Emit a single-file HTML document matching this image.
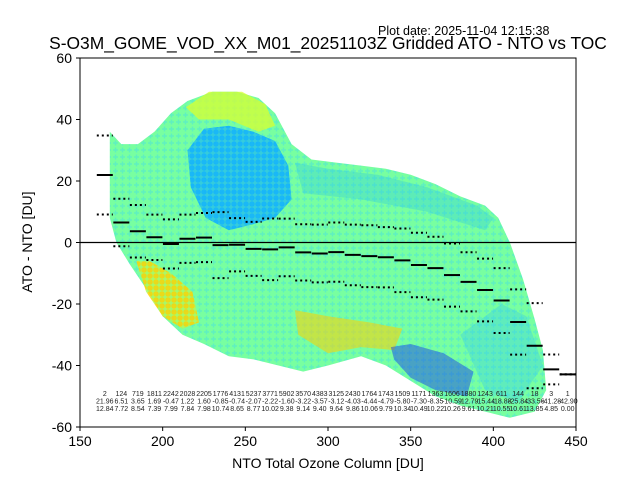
<!DOCTYPE html>
<html><head><meta charset="utf-8"><style>
html,body{margin:0;padding:0;background:#fff}
svg{display:block;font-family:"Liberation Sans","DejaVu Sans",sans-serif}
</style></head><body>
<svg id="chart" width="640" height="480" viewBox="0 0 640 480" xmlns="http://www.w3.org/2000/svg">
<defs>
<pattern id="plusG" width="7" height="7" patternUnits="userSpaceOnUse">
<rect width="7" height="7" fill="#78ffa0"/>
<path d="M1 3h5M3.5 0.5v5" stroke="#5ff0c0" stroke-width="1.5"/>
</pattern>
<pattern id="plusB" width="6" height="6" patternUnits="userSpaceOnUse">
<rect width="6" height="6" fill="#10b0ff"/>
<path d="M0.5 3h5M3 0.5v5" stroke="#30c8e0" stroke-width="1.5"/>
</pattern>
<pattern id="plusY" width="6" height="6" patternUnits="userSpaceOnUse">
<rect width="6" height="6" fill="#ffd400"/>
<path d="M0.5 3h5M3 0.5v5" stroke="#a0ff70" stroke-width="1.2"/>
</pattern>
<clipPath id="plotClip"><rect x="80" y="58" width="496" height="369"/></clipPath>
</defs>
<text x="378" y="35" font-size="12.5">Plot date: 2025-11-04 12:15:38</text>
<text x="328" y="49" font-size="17.4" text-anchor="middle">S-O3M_GOME_VOD_XX_M01_20251103Z Gridded ATO - NTO vs TOC</text>
<g id="cloud" clip-path="url(#plotClip)"></g>
<g id="stats"></g>
<rect x="80" y="58" width="496" height="369" fill="none" stroke="#000" stroke-width="1"/>
<g id="axes"></g>
<text x="328" y="468" font-size="14" text-anchor="middle">NTO Total Ozone Column [DU]</text>
<text x="32" y="242" font-size="14" text-anchor="middle" transform="rotate(-90 32 242)">ATO - NTO [DU]</text>
</svg>
<script>
const binCenters=[165,175,185,195,205,215,225,235,245,255,265,275,285,295,305,315,325,335,345,355,365,375,385,395,405,415,425,435,445];
const binCounts=[2,124,719,1811,2242,2028,2205,1776,4131,5237,3771,5902,3570,4383,3125,2430,1764,1743,1509,1171,1363,1606,1880,1243,611,144,18,3,1];
const binMeans=[21.96,6.51,3.65,1.69,-0.47,1.22,1.60,-0.85,-0.74,-2.07,-2.22,-1.60,-3.22,-3.57,-3.12,-4.03,-4.44,-4.79,-5.80,-7.30,-8.35,-10.59,-12.79,-15.44,-18.88,-25.84,-33.56,-41.28,-42.90];
const binStds=[12.84,7.72,8.54,7.39,7.99,7.84,7.98,10.74,8.65,8.77,10.02,9.38,9.14,9.40,9.64,9.86,10.06,9.79,10.34,10.49,10.22,10.26,9.61,10.21,10.55,10.61,13.85,4.85,0.00];
const xTicks=[150,200,250,300,350,400,450];
const yTicks=[-60,-40,-20,0,20,40,60];
const envUpper=[[168,36],[175,32],[185,32],[195,36],[205,42],[215,46],[230,49],[245,49],[258,47],[268,42],[278,32],[290,27],[305,26],[320,25],[335,24],[350,22],[365,19],[380,15],[395,12],[403,8],[410,0],[418,-12],[425,-25],[430,-35]];
const envLower=[[432,-48],[425,-55],[410,-57],[395,-55],[380,-53],[365,-50],[350,-45],[335,-40],[320,-37],[300,-40],[285,-42],[270,-40],[255,-38],[240,-37],[225,-33],[212,-30],[200,-24],[190,-15],[180,-7],[172,0],[168,8]];
const blueBlob=[[215,30],[225,37],[240,38],[255,36],[268,33],[276,25],[278,14],[268,8],[255,6],[240,4],[226,8],[217,18]];
const blueTop=[[280,26],[300,24],[330,22],[360,18],[390,12],[400,8],[395,4],[360,10],[320,14],[285,16]];
const yellowTop=[[214,44],[228,49],[248,49],[262,45],[268,38],[258,36],[240,40],[222,40]];
const yellowLeft=[[184,-6],[192,-6],[205,-10],[218,-16],[222,-26],[212,-28],[200,-24],[190,-16]];
const yellowMid=[[280,-22],[300,-24],[325,-26],[345,-28],[340,-35],[320,-34],[300,-36],[282,-30]];
const darkBlue=[[338,-34],[350,-33],[370,-36],[388,-42],[384,-50],[365,-48],[350,-44],[340,-38]];
const cyanLow=[[380,-30],[405,-20],[420,-24],[430,-40],[415,-52],[395,-48]];

const NS="http://www.w3.org/2000/svg";
const X=v=>80+(v-150)*496/300;
const Y=v=>58+(60-v)*369/120;
function mk(tag,attrs,parent){const e=document.createElementNS(NS,tag);for(const k in attrs)e.setAttribute(k,attrs[k]);parent.appendChild(e);return e;}
const cloud=document.getElementById('cloud');
const pts=a=>a.map(p=>X(p[0]).toFixed(1)+','+Y(p[1]).toFixed(1)).join(' ');
function region(arr,fill,name,op){
  const p=mk('polygon',{points:pts(arr),fill:fill,'fill-opacity':op||1,'stroke':'none'},cloud);
  
  
}
region(envUpper.concat(envLower),'url(#plusG)','cloud-envelope');
region(blueBlob,'url(#plusB)','blue-cluster',0.9);
region(blueTop,'#20c0f0','cyan-band',0.3);
region(yellowTop,'#d8ff30','yellow-green-cluster',0.75);
region(yellowLeft,'url(#plusY)','yellow-cluster-left',0.85);
region(yellowMid,'#ffd000','yellow-cluster-mid',0.55);
region(cyanLow,'#30c8f0','cyan-cluster-low',0.35);
region(darkBlue,'#1030f0','dark-blue-cluster',0.45);

const stats=document.getElementById('stats');
const z=mk('line',{x1:80,x2:576,y1:Y(0),y2:Y(0),stroke:'#000','stroke-width':1.2},stats);


const hw=8;
binCenters.forEach((c,i)=>{
  const m=binMeans[i],s=binStds[i];
  const d=mk('line',{x1:X(c)-hw,x2:X(c)+hw,y1:Y(m),y2:Y(m),stroke:'#000','stroke-width':2},stats);
  
  
  [m+s,m-s].forEach(v=>{
    const l=mk('line',{x1:X(c)-hw,x2:X(c)+hw,y1:Y(v),y2:Y(v),stroke:'#000','stroke-width':2,'stroke-dasharray':'2,3'},stats);
    
    
  });
  const rows=[String(binCounts[i]),binMeans[i].toFixed(2),binStds[i].toFixed(2)];
  rows.forEach((t,r)=>{
    const tx=mk('text',{x:X(c),y:396+r*7.5,'font-size':7,'text-anchor':'middle',fill:'#222'},stats);
    tx.textContent=t;
    
    
  });
});
const axes=document.getElementById('axes');
xTicks.forEach(v=>{
  const t=mk('line',{x1:X(v),x2:X(v),y1:427,y2:431,stroke:'#000'},axes);
  
  
  const l=mk('text',{x:X(v),y:446,'font-size':14,'text-anchor':'middle'},axes);
  l.textContent=v;
  
  
});
yTicks.forEach(v=>{
  const t=mk('line',{x1:76,x2:80,y1:Y(v),y2:Y(v),stroke:'#000'},axes);
  
  
  const l=mk('text',{x:72,y:Y(v)+5,'font-size':14,'text-anchor':'end'},axes);
  l.textContent=v;
  
  
});
</script>
</body></html>
